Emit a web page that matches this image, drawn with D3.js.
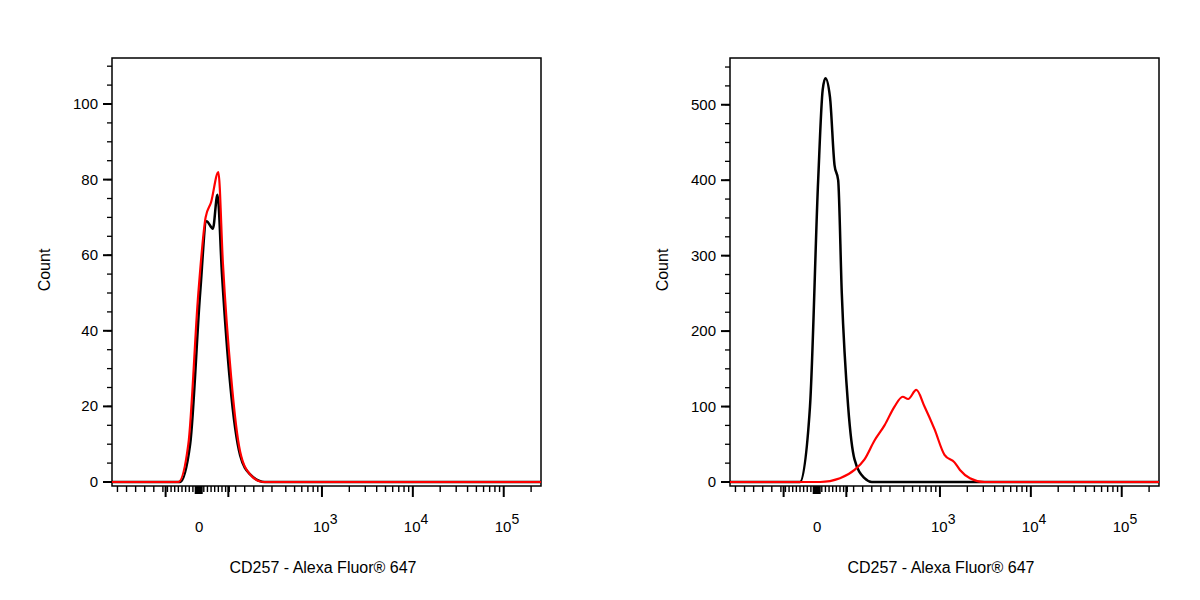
<!DOCTYPE html>
<html><head><meta charset="utf-8">
<script src="https://cdn.jsdelivr.net/npm/d3@7"></script>
<style>body{margin:0;background:#fff}text{font-family:"Liberation Sans",Arial,sans-serif}</style>
</head><body><svg id="c" width="1200" height="600"></svg>
<script>
// x values are in display decades (3 = 10^3), y in counts
const leftBlack = [[0.69,0],[1.44,0],[1.55,10],[1.66,50],[1.73,69],[1.80,67],[1.85,76],[1.90,55],[1.99,26],[2.10,7],[2.21,2],[2.37,0],[5.41,0]];
const leftRed = [[0.69,0],[1.42,0],[1.53,10],[1.64,50],[1.72,70],[1.78,74],[1.86,82],[1.91,58],[2.00,28],[2.10,8],[2.21,2],[2.35,0],[5.41,0]];
const rightBlack = [[0.69,0],[1.46,0],[1.57,100],[1.66,400],[1.71,520],[1.74,535],[1.79,510],[1.84,420],[1.88,400],[1.92,250],[1.99,100],[2.06,30],[2.17,5],[2.25,0],[5.41,0]];
const rightRed = [[0.69,0],[1.68,0],[1.90,5],[2.06,16],[2.17,30],[2.28,55],[2.39,75],[2.50,100],[2.59,113],[2.65,110],[2.74,122],[2.83,100],[2.94,70],[3.05,36],[3.16,26],[3.22,16],[3.33,5],[3.49,0],[5.41,0]];
const decadeTicks = [3, 4, 5];
const zeroTick = 1.65;
const leftYTicks = [0, 20, 40, 60, 80, 100];
const rightYTicks = [0, 100, 200, 300, 400, 500];
const xLabel = "CD257 - Alexa Fluor® 647";

const svg = d3.select("#c");

function panel(x0, yMax, yTicks, minorStep, black, red) {
  const w = 429, top = 58, bottom = 486;
  const g = svg.append("g");
  const x = d3.scaleLinear().domain([0.69, 5.41]).range([x0, x0 + w]);
  const y = d3.scaleLinear().domain([0, yMax]).range([482, 482 - (482 - 104) * yMax / (yMax === 100 ? 100 : 501)]);
  g.append("rect").attr("x", x0).attr("y", top).attr("width", w).attr("height", bottom - top)
    .attr("fill", "none").attr("stroke", "#000").attr("stroke-width", 1.5);
  // y ticks
  const minor = d3.range(0, y.invert(top), minorStep);
  g.selectAll(".ym").data(minor).join("line")
    .attr("x1", x0 - 5).attr("x2", x0).attr("y1", d => y(d)).attr("y2", d => y(d)).attr("stroke", "#000").attr("stroke-width", 1.3);
  g.selectAll(".yM").data(yTicks).join("line")
    .attr("x1", x0 - 9).attr("x2", x0).attr("y1", d => y(d)).attr("y2", d => y(d)).attr("stroke", "#000").attr("stroke-width", 2);
  g.selectAll(".yl").data(yTicks).join("text")
    .attr("x", x0 - 14).attr("y", d => y(d) + 5).attr("text-anchor", "end").attr("font-size", 15).text(d => d);
  g.append("text").attr("transform", `translate(${x0 - 62},270) rotate(-90)`).attr("text-anchor", "middle")
    .attr("font-size", 16).text("Count");
  // x ticks
  const minorX = [];
  for (let t = 0.75; t < 1.28; t += 0.1) minorX.push(t);
  for (let t = 1.3; t < 2.0; t += 0.04) minorX.push(t);
  for (let t = 2.05; t < 2.5; t += 0.1) minorX.push(t);
  for (const d of [2, 3, 4, 5]) for (let k = 2; k <= 9; k++) { const t = d + Math.log10(k); if (t > 2.55 && t < 5.41) minorX.push(t); }
  g.selectAll(".xm").data(minorX).join("line")
    .attr("x1", d => x(d)).attr("x2", d => x(d)).attr("y1", bottom).attr("y2", bottom + 6).attr("stroke", "#000").attr("stroke-width", 1.4);
  g.selectAll(".xM").data(decadeTicks.concat([1.28, 1.97])).join("line")
    .attr("x1", d => x(d)).attr("x2", d => x(d)).attr("y1", bottom).attr("y2", bottom + 11).attr("stroke", "#000").attr("stroke-width", 2);
  g.append("rect").attr("x", x(1.6)).attr("y", bottom).attr("width", 8).attr("height", 8);
  g.append("text").attr("x", x(zeroTick)).attr("y", bottom + 46).attr("text-anchor", "middle").attr("font-size", 15).text("0");
  decadeTicks.forEach(d => {
    const t = g.append("text").attr("x", x(d) - 9).attr("y", bottom + 46).attr("font-size", 15);
    t.append("tspan").text("10");
    t.append("tspan").attr("dy", -8).attr("font-size", 14).text(d);
  });
  g.append("text").attr("x", x0 + 211).attr("y", 573).attr("text-anchor", "middle").attr("font-size", 16).text(xLabel);
  const line = d3.line().x(d => x(d[0])).y(d => y(d[1])).curve(d3.curveMonotoneX);
  g.append("path").attr("d", line(black)).attr("fill", "none").attr("stroke", "#000").attr("stroke-width", 2.5);
  g.append("path").attr("d", line(red)).attr("fill", "none").attr("stroke", "#f00").attr("stroke-width", 2.2);
}
panel(112, 100, leftYTicks, 5, leftBlack, leftRed);
panel(730, 501, rightYTicks, 25, rightBlack, rightRed);
</script></body></html>
